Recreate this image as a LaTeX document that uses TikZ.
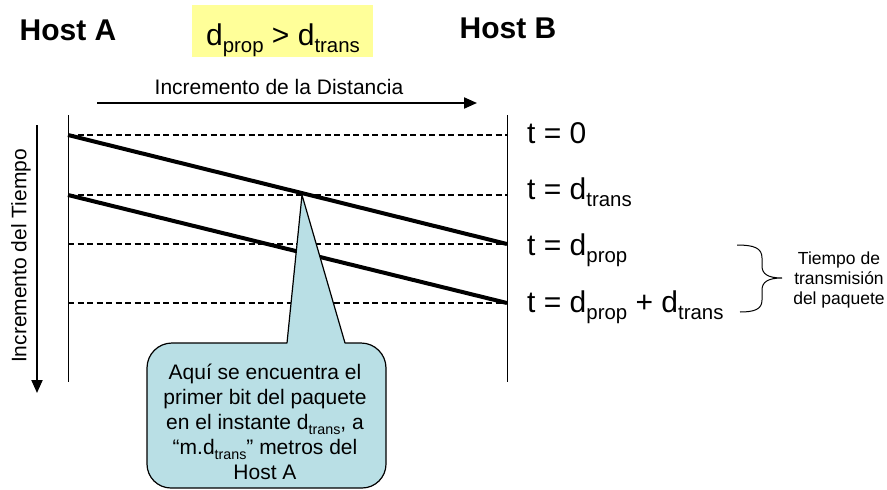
\documentclass[tikz,border=0pt]{standalone}
\usepackage{fontspec}
\setmainfont{Liberation Sans}
\usepackage{graphicx}
\usetikzlibrary{arrows.meta}
\definecolor{calloutfill}{RGB}{185,223,229}
\definecolor{hiyellow}{RGB}{255,255,153}
\newcommand\sbx[1]{\raisebox{-0.25em}{\scalebox{0.68}{#1}}}
\begin{document}
\begin{tikzpicture}[x=1pt,y=-1pt,
  hostlabel/.style={inner sep=0pt, font=\fontsize{30}{34}\selectfont\bfseries},
  tlabel/.style={anchor=base west, inner sep=0pt, font=\fontsize{30}{34}\selectfont},
  axislabel/.style={inner sep=0pt, font=\fontsize{21}{25}\selectfont},
  timeline/.style={line width=1pt},
  gridline/.style={line width=1.2pt, dash pattern=on 6pt off 3.5pt},
  packetline/.style={line width=4pt},
  axisarrow/.style={line width=2pt, -{Triangle[length=13pt,width=11pt]}},
  calloutbox/.style={fill=calloutfill, draw=black, line width=1.2pt, line join=round},
  callouttxt/.style={align=center, inner sep=0pt, font=\fontsize{21}{25}\selectfont},
  sidetxt/.style={align=center, inner sep=0pt, font=\fontsize{17.5}{20}\selectfont},
]
\useasboundingbox (0,0) rectangle (887,490);

% headers
\node[hostlabel] (hostA) at (68,30) {Host A};
\node[hostlabel] (hostB) at (508,28) {Host B};
\node[fill=hiyellow, minimum width=181pt, minimum height=52pt, inner sep=0pt] (condbox) at (282.5,31) {};
\node[anchor=base, inner sep=0pt, font=\fontsize{30}{34}\selectfont] (cond) at (283,45) {d\sbx{prop} > d\sbx{trans}};

% distance arrow
\coordinate (dA) at (97,103);
\coordinate (dB) at (477,103);
\draw[axisarrow] (dA) -- (dB);
\node[axislabel] (distlabel) at (279,87) {Incremento de la Distancia};

% time arrow
\coordinate (tA) at (37,125);
\coordinate (tB) at (37,393);
\draw[axisarrow] (tA) -- (tB);
\node[axislabel, rotate=90] (timelabel) at (21,256) {Incremento del Tiempo};

% host timelines
\coordinate (a1) at (68,115);
\coordinate (a2) at (68,382);
\coordinate (b1) at (507,115);
\coordinate (b2) at (507,382);
\draw[timeline] (a1) -- (a2);
\draw[timeline] (b1) -- (b2);

% dashed time marks
\foreach \n/\y in {0/135,1/195,2/244,3/303}{
  \coordinate (l\n) at (68,\y);
  \coordinate (r\n) at (507,\y);
  \draw[gridline] (l\n) -- (r\n);
}

% packet lines
\draw[packetline] (l0) -- (r2);
\draw[packetline] (l1) -- (r3);

% time labels
\node[tlabel] (t0) at (527,143) {t = 0};
\node[tlabel] (t1) at (527,199) {t = d\sbx{trans}};
\node[tlabel] (t2) at (527,255) {t = d\sbx{prop}};
\node[tlabel] (t3) at (527,312) {t = d\sbx{prop} + d\sbx{trans}};

% brace
\draw[line width=1pt] (737,245) .. controls (754,245) and (762,248) .. (762,258)
  -- (762,266) .. controls (762,274) and (768,278) .. (782,278)
  .. controls (768,278) and (762,282) .. (762,290)
  -- (762,300) .. controls (762,309) and (755,312) .. (740,312);
\node[sidetxt] (sidelabel) at (839,280) {Tiempo de\\transmisión\\del paquete};

% callout
\coordinate (tip) at (302,195);
\draw[calloutbox] (tip) -- (287,343) -- (172,343)
  .. controls (158.2,343) and (147,354.2) .. (147,368)
  -- (147,464) .. controls (147,477.3) and (157.7,488) .. (171,488)
  -- (362,488) .. controls (375.3,488) and (386,477.3) .. (386,464)
  -- (386,368) .. controls (386,354.2) and (374.8,343) .. (361,343)
  -- (345,343) -- cycle;
\node[callouttxt] (note) at (265,422) {Aquí se encuentra el\\primer bit del paquete\\en el instante d\sbx{trans}, a\\“m.d\sbx{trans}” metros del\\Host A};
\end{tikzpicture}
\end{document}
